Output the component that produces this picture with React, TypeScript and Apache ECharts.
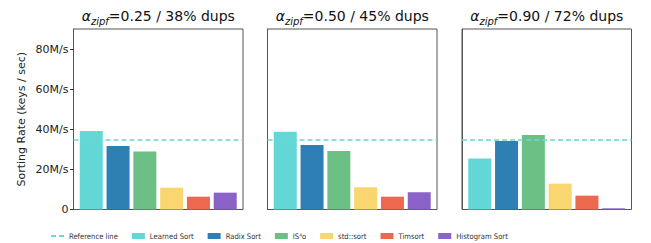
import React, { useEffect, useRef } from "react";
import * as echarts from "echarts";

const algorithms = ["Learned Sort", "Radix Sort", "IS⁴o", "std::sort", "Timsort", "Histogram Sort"];
const colors = ["#63d6d6", "#2e7fb3", "#6cc085", "#f9d66f", "#ee6850", "#8a62c8"];
const alphas = ["0.25", "0.50", "0.90"];
const dups = ["38%", "45%", "72%"];
const panel1 = [39.1, 31.6, 28.9, 10.9, 6.4, 8.4];
const panel2 = [38.8, 32.2, 29.2, 11.1, 6.4, 8.6];
const panel3 = [25.4, 34.1, 37.2, 12.9, 6.9, 0.6];
const panels = [panel1, panel2, panel3];
const referenceRate = 35;
const yTicks = [0, 20, 40, 60, 80];
const yMax = 90;

const gridLefts = [73.5, 267.5, 462];
const gridWidth = 169.5;
const gridTop = 29;
const gridHeight = 180.5;

export default function App() {
  const ref = useRef<HTMLDivElement>(null);
  useEffect(() => {
    if (!ref.current) return;
    const chart = echarts.init(ref.current, null, { renderer: "svg" });
    const font = "'DejaVu Sans', sans-serif";
    const grids = gridLefts.map((l) => ({
      left: l,
      top: gridTop,
      width: gridWidth,
      height: gridHeight,
      show: true,
      borderColor: "#555",
      borderWidth: 1,
      backgroundColor: "transparent",
    }));
    const xAxes = gridLefts.map((_, i) => ({
      type: "category",
      gridIndex: i,
      data: ["g"],
      show: false,
    }));
    const yAxes = gridLefts.map((_, i) => ({
      type: "value",
      gridIndex: i,
      min: 0,
      max: yMax,
      interval: 20,
      name: i === 0 ? "Sorting Rate (keys / sec)" : "",
      nameLocation: "middle",
      nameRotate: 90,
      nameGap: 47,
      nameTextStyle: { fontFamily: font, fontSize: 11, color: "#222" },
      axisLine: { show: true, lineStyle: { color: "#555", width: 1 } },
      axisTick: { show: i === 0, length: 3.5, lineStyle: { color: "#333" } },
      axisLabel: {
        show: i === 0,
        showMaxLabel: false,
        fontFamily: font,
        fontSize: 11,
        color: "#222",
        margin: 5,
        formatter: (v: number) => (yTicks.includes(v) ? (v === 0 ? "0" : v + "M/s") : ""),
      },
      splitLine: { show: false },
    }));
    const series: any[] = [];
    panels.forEach((vals, g) => {
      series.push({
        type: "line",
        name: "Reference line",
        xAxisIndex: g,
        yAxisIndex: g,
        data: [referenceRate],
        symbol: "none",
        showSymbol: false,
        lineStyle: { color: "#6dd6d6", width: 1.5, type: [5, 3] },
        itemStyle: { color: "#6dd6d6" },
        z: 5,
        markLine: {
          silent: true,
          symbol: "none",
          label: { show: false },
          lineStyle: { color: "#6dd6d6", width: 1.5, type: [5, 3] },
          data: [{ yAxis: referenceRate }],
        },
      });
      vals.forEach((v, a) => {
        series.push({
          type: "bar",
          name: algorithms[a],
          xAxisIndex: g,
          yAxisIndex: g,
          data: [v],
          barWidth: 23,
          barGap: "16.5%",
          itemStyle: {
            color: colors[a],
          },
        });
      });
    });
    const titles = gridLefts.map((l, i) => ({
      left: l + gridWidth / 2,
      top: 6,
      textAlign: "center",
      padding: 0,
      text: `{a|α}{s|zipf}{m|=${alphas[i]} / ${dups[i]} dups}`,
      textStyle: {
        fontWeight: "normal",
        rich: {
          a: { fontFamily: font, fontSize: 14, fontStyle: "italic", fontWeight: "normal", color: "#111", lineHeight: 20 },
          s: { fontFamily: font, fontSize: 10, fontStyle: "italic", fontWeight: "normal", color: "#111", lineHeight: 14, verticalAlign: "bottom" },
          m: { fontFamily: font, fontSize: 14, fontWeight: "normal", color: "#111", lineHeight: 20 },
        },
      },
    }));
    chart.setOption({
      animation: false,
      title: titles,
      grid: grids,
      xAxis: xAxes,
      yAxis: yAxes,
      legend: {
        left: 50,
        top: 232,
        itemGap: 14,
        itemWidth: 13,
        itemHeight: 6,
        padding: 0,
        textStyle: {
          fontFamily: "'DejaVu Sans Condensed', 'DejaVu Sans', sans-serif",
          fontSize: 7.6,
          color: "#333",
        },
        data: [
          { name: "Reference line", itemStyle: { color: "rgba(0,0,0,0)", borderWidth: 0, opacity: 0 } },
          ...algorithms.map((n) => ({ name: n, icon: "rect" })),
        ],
      },
      series,
    });
    return () => chart.dispose();
  }, []);
  return (
    <div
      ref={ref}
      style={{ position: "fixed", left: 0, top: 0, width: 651, height: 243, background: "#fff" }}
    />
  );
}
